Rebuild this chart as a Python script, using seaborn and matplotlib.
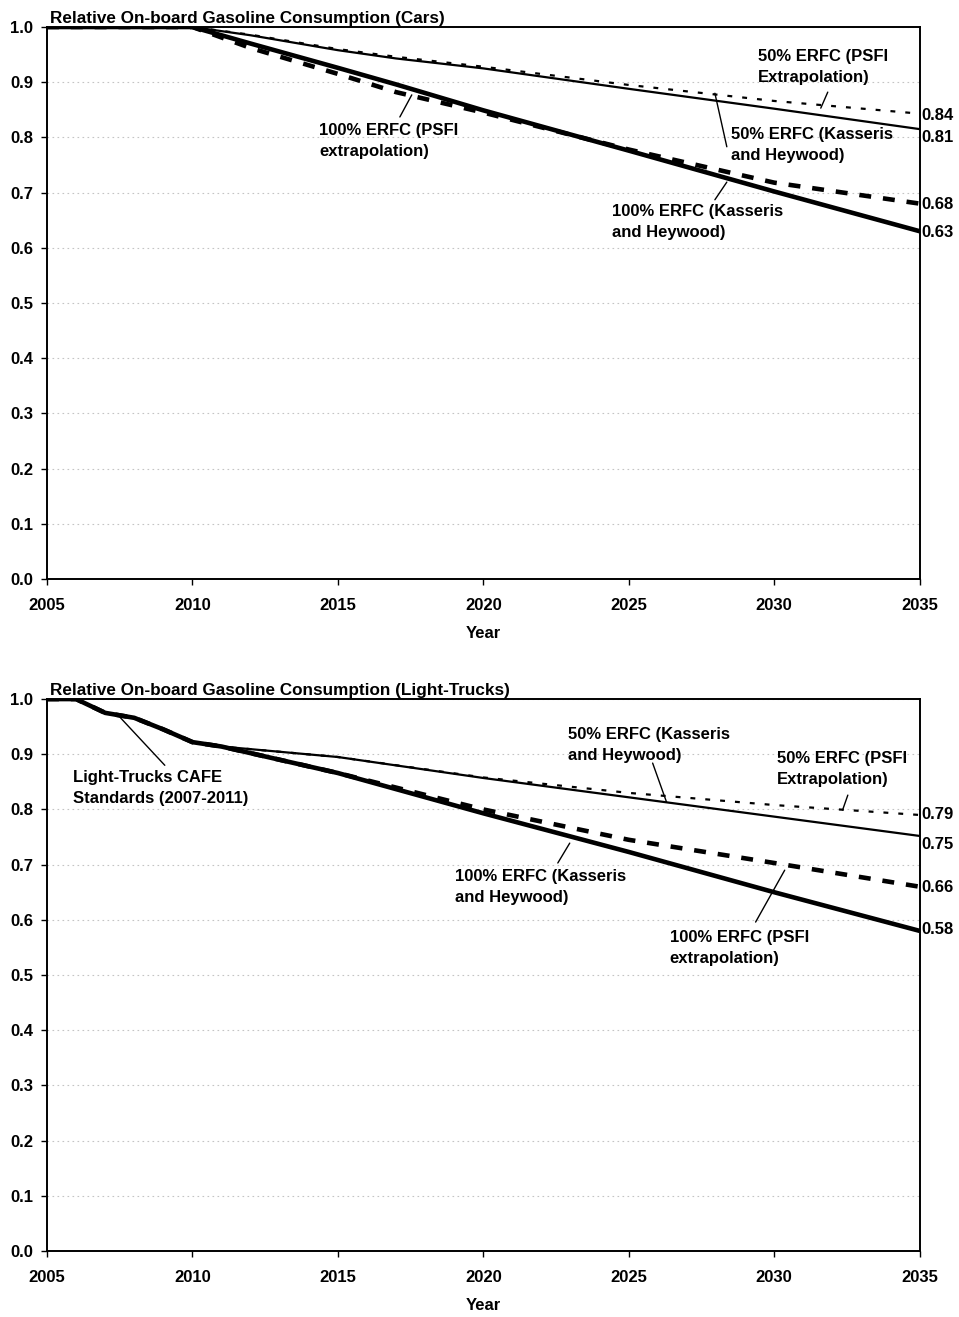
import numpy as np
import pandas as pd
import matplotlib
matplotlib.use("Agg")
import matplotlib.pyplot as plt
import seaborn as sns

# %%
# Cars
years_cars = [2005, 2010, 2012, 2015, 2017, 2020, 2025, 2030, 2035]
cars_50_kh = [1.0, 1.0, 0.985, 0.958, 0.943, 0.925, 0.888, 0.852, 0.815]
cars_50_psfi = [1.0, 1.0, 0.986, 0.960, 0.946, 0.928, 0.895, 0.866, 0.843]
cars_100_kh = [1.0, 1.0, 0.970, 0.926, 0.896, 0.849, 0.776, 0.702, 0.630]
cars_100_psfi = [1.0, 1.0, 0.962, 0.915, 0.882, 0.845, 0.778, 0.718, 0.680]
cars_end = ["0.84", "0.81", "0.68", "0.63"]

# Light trucks
years_lt = [2005, 2006, 2007, 2008, 2009, 2010, 2011, 2015, 2020, 2025, 2030, 2035]
lt_cafe = [1.0, 1.0, 0.975, 0.966, 0.945, 0.922, 0.914]
lt_50_kh = lt_cafe + [0.895, 0.857, 0.822, 0.787, 0.752]
lt_50_psfi = lt_cafe + [0.895, 0.858, 0.830, 0.808, 0.790]
lt_100_kh = lt_cafe + [0.866, 0.793, 0.723, 0.650, 0.580]
lt_100_psfi = lt_cafe + [0.866, 0.800, 0.745, 0.703, 0.660]
lt_end = ["0.79", "0.75", "0.66", "0.58"]

# %%
sns.set_theme(style="white")
plt.rcParams["font.family"] = ["Liberation Sans", "DejaVu Sans"]
plt.rcParams["font.weight"] = "bold"
plt.rcParams["text.color"] = "black"
plt.rcParams["axes.labelcolor"] = "black"
plt.rcParams["xtick.color"] = "black"
plt.rcParams["ytick.color"] = "black"

fig = plt.figure(figsize=(9.59, 13.17), dpi=100)
ax1 = fig.add_axes([0.049, 0.5604, 0.910, 0.4191])
ax2 = fig.add_axes([0.049, 0.0501, 0.910, 0.4191])

styles = {
    "50_kh": dict(linewidth=1.6, linestyle="-"),
    "50_psfi": dict(linewidth=1.6, linestyle=(0, (2.2, 4.5))),
    "100_kh": dict(linewidth=3.3, linestyle="-"),
    "100_psfi": dict(linewidth=3.3, linestyle=(0, (2.6, 2.6))),
}


def draw(ax, years, series, title):
    for key, vals in series.items():
        sns.lineplot(x=years, y=vals, ax=ax, color="black", **styles[key])
    ax.set_xlim(2005, 2035)
    ax.set_ylim(0, 1)
    ax.set_xticks(range(2005, 2036, 5))
    ax.set_yticks(np.arange(0, 1.01, 0.1))
    ax.set_yticklabels([f"{v:.1f}" for v in np.arange(0, 1.01, 0.1)])
    ax.grid(axis="y", color="#c4c4c4", linestyle=(0, (1.5, 3)), linewidth=0.8)
    for s in ax.spines.values():
        s.set_visible(True)
        s.set_color("black")
        s.set_linewidth(1.4)
    ax.tick_params(axis="y", length=4, width=1, pad=6, labelsize=12, left=True)
    ax.tick_params(axis="x", length=4, width=1, pad=10, labelsize=12, bottom=True)
    ax.set_xlabel("Year", fontsize=12, fontweight="bold", labelpad=9)
    ax.set_ylabel("")
    t = ax.set_title(title, loc="left", fontsize=12.3, fontweight="bold", pad=3)
    t.set_x(0.004)


def note(ax, text, xy, tail, head):
    ax.text(xy[0], xy[1], text, fontsize=12, fontweight="bold", ha="left", va="center",
            linespacing=1.5)
    ax.plot([tail[0], head[0]], [tail[1], head[1]], color="black", linewidth=1)


draw(ax1, years_cars, {"50_kh": cars_50_kh, "50_psfi": cars_50_psfi,
                       "100_kh": cars_100_kh, "100_psfi": cars_100_psfi},
     "Relative On-board Gasoline Consumption (Cars)")
draw(ax2, years_lt, {"50_kh": lt_50_kh, "50_psfi": lt_50_psfi,
                     "100_kh": lt_100_kh, "100_psfi": lt_100_psfi},
     "Relative On-board Gasoline Consumption (Light-Trucks)")

# annotations, cars
note(ax1, "50% ERFC (PSFI\nExtrapolation)", (2029.43, 0.928), (2031.84, 0.882), (2031.6, 0.853))
note(ax1, "50% ERFC (Kasseris\nand Heywood)", (2028.5, 0.786), (2028.37, 0.783), (2027.96, 0.880))
note(ax1, "100% ERFC (Kasseris\nand Heywood)", (2024.42, 0.647), (2028.37, 0.719), (2027.96, 0.687))
note(ax1, "100% ERFC (PSFI\nextrapolation)", (2014.35, 0.793), (2017.54, 0.877), (2017.13, 0.837))

# annotations, light trucks
note(ax2, "Light-Trucks CAFE\nStandards (2007-2011)", (2005.89, 0.839), (2007.51, 0.967), (2009.05, 0.880))
note(ax2, "50% ERFC (Kasseris\nand Heywood)", (2022.9, 0.917), (2025.82, 0.884), (2026.3, 0.813))
note(ax2, "50% ERFC (PSFI\nExtrapolation)", (2030.09, 0.873), (2032.53, 0.826), (2032.35, 0.799))
note(ax2, "100% ERFC (Kasseris\nand Heywood)", (2019.02, 0.659), (2022.56, 0.703), (2022.97, 0.739))
note(ax2, "100% ERFC (PSFI\nextrapolation)", (2026.41, 0.549), (2029.36, 0.596), (2030.36, 0.690))

# end labels
for ax, labels, ys in [(ax1, cars_end, [0.840, 0.800, 0.679, 0.627]),
                       (ax2, lt_end, [0.790, 0.737, 0.658, 0.582])]:
    for lab, y in zip(labels, ys):
        ax.text(2035.05, y, lab, fontsize=12, fontweight="bold", ha="left", va="center",
                clip_on=False)

fig.savefig("out.png", dpi=100, facecolor="white")
